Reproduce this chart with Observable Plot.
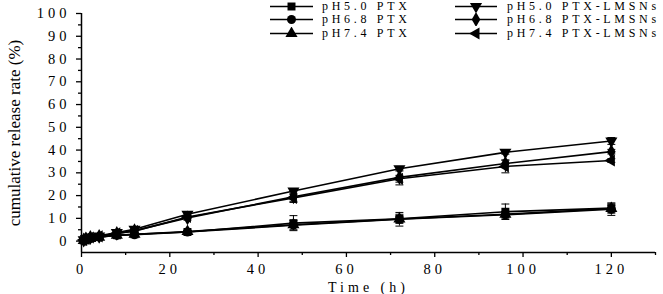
<!DOCTYPE html>
<html><head><meta charset="utf-8">
<script src="https://cdn.jsdelivr.net/npm/d3@7"></script>
<script src="https://cdn.jsdelivr.net/npm/@observablehq/plot@0.6"></script>
<style>
html,body{margin:0;padding:0;background:#fff;}
#wrap{position:relative;width:663px;height:294px;overflow:hidden;}
#wrap svg.plot{font-family:"Liberation Serif",serif;}
g[aria-label$="tick label"] text{font-family:"Liberation Serif",serif;font-size:14.5px;letter-spacing:4px;}
g[aria-label="y-axis label"] text{font-family:"Liberation Serif",serif;font-size:17px;}
g[aria-label="x-axis label"] text{font-family:"Liberation Serif",serif;font-size:14px;letter-spacing:4px;}
#legend{position:absolute;top:0;left:270px;display:grid;grid-template-columns:43px 142px 42px auto;grid-auto-rows:13.3px;font-family:"Liberation Serif",serif;font-size:12px;line-height:11px;letter-spacing:3.7px;color:#000;}
#legend .cell{height:13.3px;display:flex;align-items:center;overflow:visible;}
#legend .txt{padding-left:9px;white-space:nowrap;}
#legend .txt2{padding-left:10px;white-space:nowrap;}
</style></head>
<body><div id="wrap"><div id="legend"></div></div>
<script>
const times = [0.5, 1, 2, 4, 8, 12, 24, 48, 72, 96, 120];
const seriesNames = ["pH5.0 PTX", "pH6.8 PTX", "pH7.4 PTX", "pH5.0 PTX-LMSNs", "pH6.8 PTX-LMSNs", "pH7.4 PTX-LMSNs"];
const symbolNames = ["square", "circle", "triangle", "triangle", "diamond", "triangle"];
const symbolRotations = [0, 0, 0, 180, 0, -90];

const ph50PTX = [0.3, 0.8, 1.3, 1.8, 2.6, 3.0, 4.0, 7.9, 9.8, 12.9, 14.5];
const ph68PTX = [0.3, 0.8, 1.3, 1.8, 2.5, 2.8, 4.0, 7.0, 9.6, 11.6, 14.0];
const ph74PTX = [0.3, 0.8, 1.2, 1.7, 2.6, 3.0, 4.2, 7.2, 9.7, 11.8, 14.3];
const ph50LMSN = [0.6, 1.2, 1.8, 2.3, 3.8, 5.2, 11.8, 22.0, 31.8, 39.0, 44.0];
const ph68LMSN = [0.5, 1.0, 1.6, 2.1, 3.4, 4.6, 10.2, 19.5, 28.0, 34.1, 39.3];
const ph74LMSN = [0.5, 1.0, 1.6, 2.1, 3.4, 4.4, 10.6, 19.0, 27.4, 32.8, 35.4];

const ph50PTXErr = [0.2, 0.2, 0.3, 0.3, 0.5, 0.6, 0.6, 3.3, 2.0, 3.4, 2.2];
const ph68PTXErr = [0.2, 0.2, 0.3, 0.3, 0.5, 0.5, 0.5, 2.0, 3.0, 1.5, 2.7];
const ph74PTXErr = [0.2, 0.2, 0.2, 0.3, 0.4, 0.5, 0.5, 1.0, 1.2, 1.2, 1.5];
const ph50LMSNErr = [0.2, 0.2, 0.3, 0.3, 0.5, 0.6, 0.8, 1.0, 1.0, 0.8, 1.5];
const ph68LMSNErr = [0.2, 0.2, 0.3, 0.3, 0.5, 0.6, 1.0, 2.5, 3.3, 1.5, 1.0];
const ph74LMSNErr = [0.2, 0.2, 0.3, 0.3, 0.5, 0.6, 0.8, 1.5, 1.5, 2.8, 0.8];

const yTicks = [0, 10, 20, 30, 40, 50, 60, 70, 80, 90, 100];
const yMinor = [5, 15, 25, 35, 45, 55, 65, 75, 85, 95];
const xTicks = [0, 20, 40, 60, 80, 100, 120];
const xMinor = [10, 30, 50, 70, 90, 110, 130];

const values = [ph50PTX, ph68PTX, ph74PTX, ph50LMSN, ph68LMSN, ph74LMSN];
const errs = [ph50PTXErr, ph68PTXErr, ph74PTXErr, ph50LMSNErr, ph68LMSNErr, ph74LMSNErr];

const rows = [];
seriesNames.forEach((s, i) => times.forEach((t, j) => rows.push({series: s, t, v: values[i][j], e: errs[i][j]})));

const capHalf = 0.9;
const dotMarks = seriesNames.map((s, i) =>
  Plot.dot(rows.filter(d => d.series === s), {x: "t", y: "v", symbol: symbolNames[i], rotate: symbolRotations[i], r: 4.5, fill: "#000", stroke: "none"})
);

const chart = Plot.plot({
  width: 663, height: 294,
  marginLeft: 81, marginRight: 8, marginTop: 13, marginBottom: 42,
  x: {domain: [0, 130]},
  y: {domain: [-5, 100]},
  marks: [
    Plot.ruleX([0], {stroke: "#000", strokeWidth: 1.5}),
    Plot.ruleY([-5], {stroke: "#000", strokeWidth: 1.5}),
    Plot.axisY({ticks: yTicks, tickSize: 5, tickPadding: 6, label: "cumulative release rate (%)", labelAnchor: "center", labelArrow: "none", labelOffset: 74, strokeWidth: 1.3}),
    Plot.axisY({ticks: yMinor, tickSize: 3, text: null, label: null, strokeWidth: 1.3}),
    Plot.axisX({ticks: xTicks, tickSize: 5, tickPadding: 6, label: "Time (h)", labelAnchor: "center", labelArrow: "none", labelOffset: 39, strokeWidth: 1.3}),
    Plot.axisX({ticks: xMinor, tickSize: 3, text: null, label: null, strokeWidth: 1.3}),
    Plot.ruleX(rows, {x: "t", y1: d => d.v - d.e, y2: d => d.v + d.e, stroke: "#000", strokeWidth: 1}),
    Plot.link(rows, {x1: d => d.t - capHalf, x2: d => d.t + capHalf, y1: d => d.v + d.e, y2: d => d.v + d.e, stroke: "#000", strokeWidth: 1}),
    Plot.link(rows, {x1: d => d.t - capHalf, x2: d => d.t + capHalf, y1: d => d.v - d.e, y2: d => d.v - d.e, stroke: "#000", strokeWidth: 1}),
    Plot.line(rows, {x: "t", y: "v", z: "series", stroke: "#000", strokeWidth: 1.6}),
    ...dotMarks
  ]
});
chart.classList.add("plot");
document.getElementById("wrap").prepend(chart);

// legend
const legend = document.getElementById("legend");
function symCell(i, w) {
  const cell = document.createElement("div");
  cell.className = "cell";
  const svg = d3.create("svg").attr("width", w).attr("height", 13);
  svg.append("line").attr("x1", 0).attr("x2", w).attr("y1", 6.5).attr("y2", 6.5).attr("stroke", "#000").attr("stroke-width", 1.6);
  const map = {square: d3.symbolSquare, circle: d3.symbolCircle, triangle: d3.symbolTriangle, diamond: d3.symbolDiamond};
  const r = 4.5;
  svg.append("path").attr("d", d3.symbol(map[symbolNames[i]], r * r * Math.PI)())
    .attr("transform", `translate(${w / 2},6.5) rotate(${symbolRotations[i]})`).attr("fill", "#000");
  cell.appendChild(svg.node());
  return cell;
}
for (let row = 0; row < 3; row++) {
  legend.appendChild(symCell(row, 43));
  const t1 = document.createElement("div"); t1.className = "cell txt"; t1.textContent = seriesNames[row]; legend.appendChild(t1);
  legend.appendChild(symCell(row + 3, 42));
  const t2 = document.createElement("div"); t2.className = "cell txt2"; t2.textContent = seriesNames[row + 3]; legend.appendChild(t2);
}
</script></body></html>
